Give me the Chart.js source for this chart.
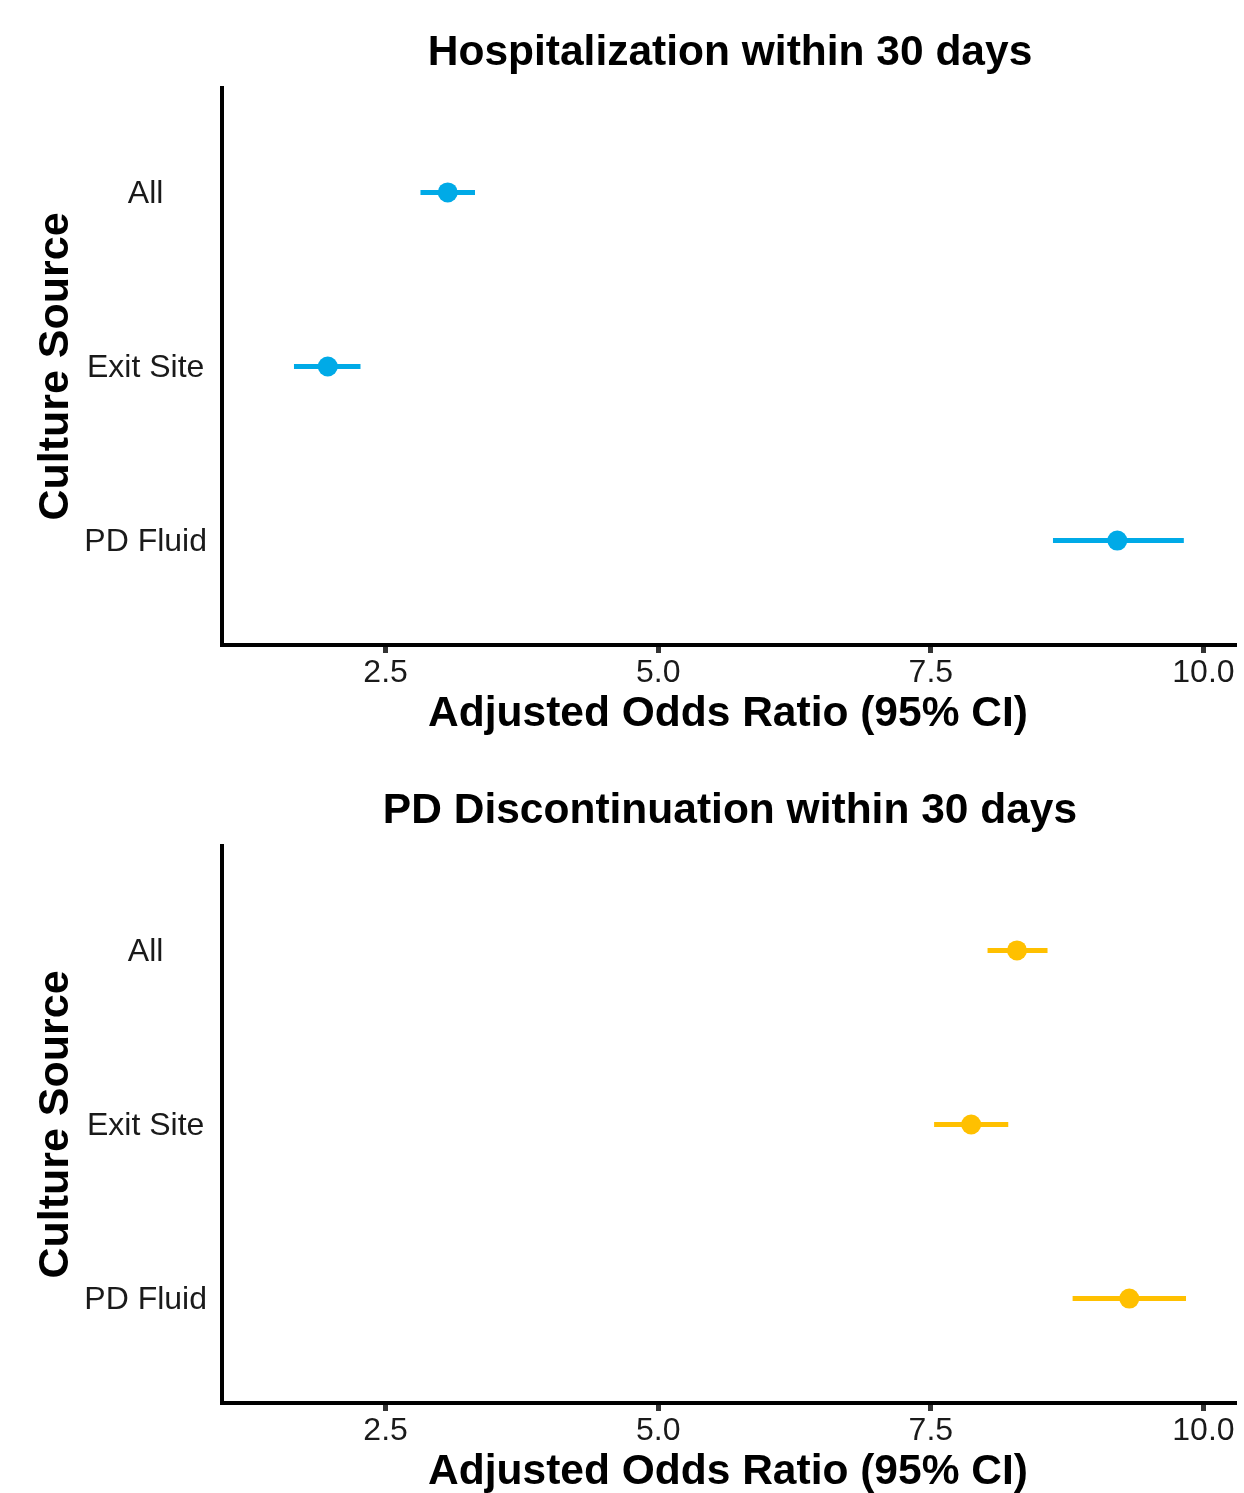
<!DOCTYPE html>
<html>
<head>
<meta charset="utf-8">
<script src="https://cdn.jsdelivr.net/npm/chart.js@4/dist/chart.umd.min.js"></script>
<style>
    html, body { margin: 0; padding: 0; background: #fff; overflow: hidden; }
    .panel { position: absolute; left: 0; width: 1244px; height: 746px; }
</style>
</head>
<body>
<div class="panel" style="top: 0px;"><canvas id="hospChart" width="1244" height="746"></canvas></div>
<div class="panel" style="top: 758px;"><canvas id="discChart" width="1244" height="746"></canvas></div>
<script>
// Data
var categories = ['All', 'Exit Site', 'PD Fluid'];
var hospOR = [3.07, 1.97, 9.21];
var hospLower = [2.82, 1.66, 8.62];
var hospUpper = [3.32, 2.27, 9.82];
var discOR = [8.29, 7.87, 9.32];
var discLower = [8.02, 7.53, 8.80];
var discUpper = [8.57, 8.21, 9.84];
var xTicks = [2.5, 5.0, 7.5, 10.0];

var FONT = '"Liberation Sans", Arial, sans-serif';
Chart.defaults.font.family = FONT;

// title centred over the plot area (not the whole canvas)
var panelTitle = {
    id: 'panelTitle',
    afterDraw: function (chart, args, opts) {
        var ctx = chart.ctx;
        var area = chart.chartArea;
        ctx.save();
        ctx.font = 'bold 42.5px ' + FONT;
        ctx.fillStyle = '#000';
        ctx.textAlign = 'center';
        ctx.textBaseline = 'middle';
        ctx.fillText(opts.text, (area.left + area.right) / 2 + 2, opts.y);
        ctx.restore();
    }
};

function buildDatasets(est, lower, upper, color) {
    var sets = [{
        data: est.map(function (v, i) { return { x: v, y: i + 1 }; }),
        backgroundColor: color,
        borderColor: color,
        pointRadius: 10,
        pointBorderWidth: 0,
        showLine: false
    }];
    for (var i = 0; i < est.length; i++) {
        sets.push({
            data: [{ x: lower[i], y: i + 1 }, { x: upper[i], y: i + 1 }],
            borderColor: color,
            borderWidth: 5,
            pointRadius: 0,
            showLine: true
        });
    }
    return sets;
}

function initForestChart(id, title, est, lower, upper, color) {
    var ctx = document.getElementById(id);
    if (!ctx) return;

    ctx = ctx.getContext('2d');

    new Chart(ctx, {
        type: 'scatter',
        data: { datasets: buildDatasets(est, lower, upper, color) },
        plugins: [panelTitle],
        options: {
            responsive: false,
            animation: false,
            events: [],
            layout: { padding: { top: 88, right: 6, left: 0, bottom: 0 } },
            plugins: {
                legend: { display: false },
                tooltip: { enabled: false },
                title: { display: false },
                panelTitle: { text: title, y: 53 }
            },
            scales: {
                x: {
                    type: 'linear',
                    min: 1.0,
                    max: 10.28,
                    afterBuildTicks: function (s) {
                        s.ticks = xTicks.map(function (v) { return { value: v }; });
                    },
                    afterFit: function (s) { s.height = 101; },
                    grid: {
                        display: true,
                        drawOnChartArea: false,
                        drawTicks: true,
                        tickLength: 8,
                        lineWidth: 5,
                        color: '#333333'
                    },
                    border: { display: true, color: '#000', width: 4 },
                    ticks: {
                        callback: function (v) { return Number(v).toFixed(1); },
                        font: { size: 32 },
                        color: '#1a1a1a',
                        padding: 1,
                        maxRotation: 0,
                        autoSkip: false
                    },
                    title: {
                        display: true,
                        text: 'Adjusted Odds Ratio (95% CI)',
                        font: { size: 42.5, weight: 'bold' },
                        color: '#000',
                        padding: { top: 0, bottom: 6 }
                    }
                },
                y: {
                    type: 'linear',
                    reverse: true,
                    min: 0.4,
                    max: 3.6,
                    afterBuildTicks: function (s) {
                        s.ticks = categories.map(function (c, i) { return { value: i + 1 }; });
                    },
                    afterFit: function (s) { s.width = 222; },
                    grid: { display: false, drawTicks: false },
                    border: { display: true, color: '#000', width: 4 },
                    ticks: {
                        callback: function (v) { return categories[v - 1]; },
                        font: { size: 32 },
                        color: '#1a1a1a',
                        padding: 15,
                        labelOffset: 2,
                        crossAlign: 'center',
                        autoSkip: false
                    },
                    title: {
                        display: true,
                        text: 'Culture Source',
                        font: { size: 43, weight: 'bold' },
                        color: '#000',
                        padding: { top: 30, bottom: 0 }
                    }
                }
            }
        }
    });
}

initForestChart('hospChart', 'Hospitalization within 30 days', hospOR, hospLower, hospUpper, '#00AAE7');
initForestChart('discChart', 'PD Discontinuation within 30 days', discOR, discLower, discUpper, '#FFC000');
</script>
</body>
</html>
